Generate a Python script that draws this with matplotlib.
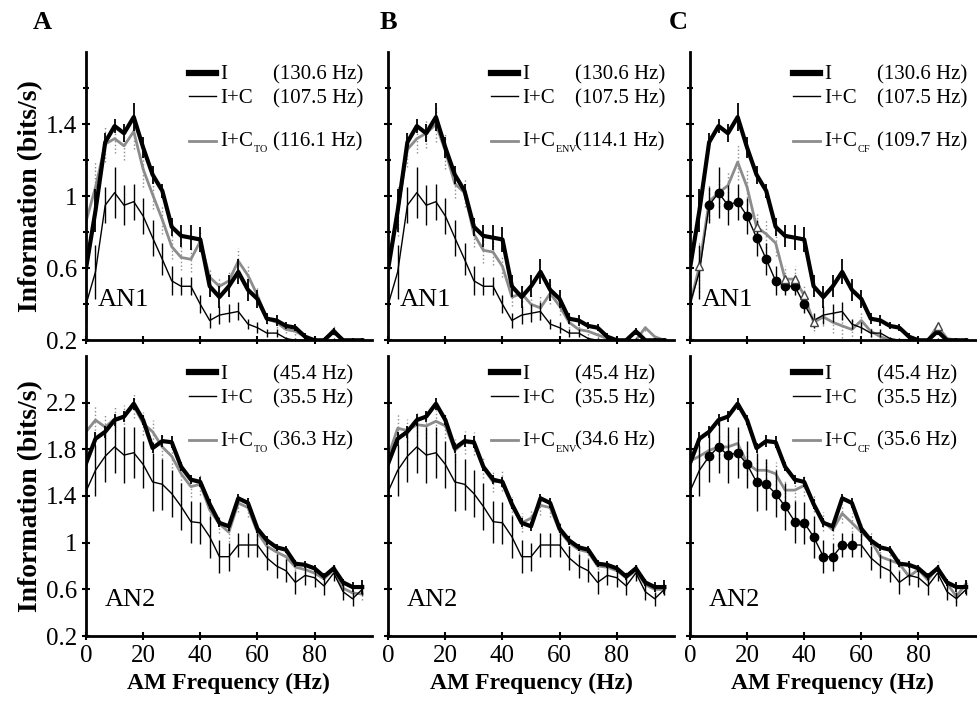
import numpy as np
import matplotlib
matplotlib.use("Agg")
import matplotlib.pyplot as plt
from matplotlib.lines import Line2D

plt.rcParams['font.family'] = 'Liberation Serif'
plt.rcParams['mathtext.fontset'] = 'custom'
plt.rcParams['mathtext.rm'] = 'Liberation Serif'

# AM frequencies (Hz)
freq = [0, 3.3, 6.7, 10, 13.3, 16.7, 20, 23.3, 26.7, 30, 33.3, 36.7, 40, 43.3, 46.7,
        50, 53.3, 56.7, 60, 63.3, 66.7, 70, 73.3, 76.7, 80, 83.3, 86.7, 90, 93.3, 96.7]

# AN1 (top row)
an1_I = [0.60, 0.92, 1.30, 1.39, 1.35, 1.44, 1.27, 1.12, 1.03, 0.83, 0.78, 0.77, 0.76, 0.50, 0.44,
         0.50, 0.58, 0.48, 0.43, 0.32, 0.31, 0.28, 0.27, 0.22, 0.20, 0.20, 0.25, 0.20, 0.20, 0.20]
an1_IC = [0.40, 0.58, 0.95, 1.02, 0.95, 0.97, 0.89, 0.77, 0.65, 0.53, 0.50, 0.50, 0.40, 0.31, 0.34,
          0.35, 0.36, 0.29, 0.27, 0.24, 0.24, 0.21, 0.20, 0.20, 0.20, 0.20, 0.20, 0.20, 0.20, 0.20]
an1_TO = [0.86, 1.05, 1.29, 1.32, 1.28, 1.36, 1.15, 1.01, 0.87, 0.72, 0.66, 0.65, 0.75, 0.55, 0.50,
          0.53, 0.64, 0.56, 0.45, 0.32, 0.30, 0.26, 0.25, 0.22, 0.20, 0.20, 0.26, 0.20, 0.20, 0.20]
an1_ENV = [0.62, 0.92, 1.26, 1.32, 1.35, 1.40, 1.25, 1.07, 1.02, 0.79, 0.70, 0.69, 0.61, 0.44, 0.46,
           0.40, 0.38, 0.46, 0.39, 0.30, 0.26, 0.25, 0.23, 0.21, 0.20, 0.20, 0.20, 0.27, 0.22, 0.20]
an1_CF = [0.40, 0.61, 0.97, 1.02, 1.06, 1.19, 1.05, 0.83, 0.79, 0.74, 0.54, 0.54, 0.45, 0.30, 0.33,
          0.30, 0.28, 0.26, 0.31, 0.25, 0.22, 0.20, 0.20, 0.20, 0.20, 0.20, 0.28, 0.21, 0.20, 0.20]
an1_err_I = [0.10, 0.12, 0.05, 0.04, 0.05, 0.08, 0.06, 0.05, 0.04, 0.05, 0.06, 0.07, 0.07, 0.06, 0.06,
             0.06, 0.07, 0.06, 0.05, 0.03, 0.03, 0.02, 0.02, 0.02, 0.01, 0.01, 0.02, 0.01, 0.01, 0.01]
an1_err_IC = [0.10, 0.15, 0.10, 0.14, 0.11, 0.10, 0.10, 0.10, 0.09, 0.08, 0.05, 0.05, 0.05, 0.04, 0.05,
              0.05, 0.05, 0.03, 0.03, 0.02, 0.02, 0.01, 0.01, 0.01, 0.01, 0.01, 0.01, 0.01, 0.01, 0.01]
an1_err_gray = [0.08, 0.14, 0.10, 0.08, 0.08, 0.10, 0.10, 0.08, 0.08, 0.07, 0.07, 0.07, 0.06, 0.05, 0.05,
                0.06, 0.07, 0.06, 0.05, 0.03, 0.03, 0.02, 0.02, 0.02, 0.01, 0.01, 0.03, 0.02, 0.01, 0.01]

# AN2 (bottom row)
an2_I = [1.68, 1.89, 1.95, 2.05, 2.08, 2.19, 2.05, 1.81, 1.87, 1.86, 1.65, 1.54, 1.52, 1.33, 1.17,
         1.14, 1.38, 1.34, 1.12, 1.02, 0.96, 0.94, 0.82, 0.81, 0.78, 0.71, 0.78, 0.66, 0.62, 0.62]
an2_IC = [1.44, 1.62, 1.74, 1.82, 1.75, 1.77, 1.67, 1.52, 1.50, 1.42, 1.31, 1.18, 1.17, 1.05, 0.88,
          0.88, 0.98, 0.98, 0.98, 0.87, 0.80, 0.76, 0.66, 0.72, 0.70, 0.63, 0.74, 0.58, 0.52, 0.60]
an2_TO = [1.95, 2.05, 1.99, 2.06, 2.08, 2.17, 2.02, 1.95, 1.82, 1.74, 1.59, 1.48, 1.50, 1.28, 1.16,
          1.09, 1.34, 1.30, 1.09, 0.97, 0.92, 0.88, 0.79, 0.77, 0.74, 0.69, 0.77, 0.61, 0.57, 0.56]
an2_ENV = [1.74, 1.98, 1.96, 2.01, 2.00, 2.04, 2.00, 1.79, 1.86, 1.85, 1.64, 1.52, 1.53, 1.31, 1.17,
           1.21, 1.32, 1.30, 1.10, 1.00, 0.94, 0.92, 0.80, 0.79, 0.76, 0.70, 0.76, 0.64, 0.60, 0.60]
an2_CF = [1.70, 1.74, 1.79, 1.82, 1.82, 1.85, 1.68, 1.62, 1.62, 1.59, 1.45, 1.45, 1.49, 1.34, 1.18,
          1.11, 1.25, 1.17, 1.09, 1.02, 0.88, 0.85, 0.82, 0.71, 0.77, 0.68, 0.79, 0.65, 0.54, 0.65]
an2_err_I = [0.05, 0.06, 0.05, 0.05, 0.05, 0.05, 0.04, 0.04, 0.05, 0.05, 0.04, 0.04, 0.04, 0.04, 0.04,
             0.04, 0.04, 0.04, 0.04, 0.04, 0.03, 0.03, 0.03, 0.03, 0.03, 0.03, 0.03, 0.03, 0.04, 0.06]
an2_err_IC = [0.10, 0.22, 0.22, 0.22, 0.24, 0.22, 0.20, 0.25, 0.22, 0.20, 0.20, 0.18, 0.18, 0.18, 0.14,
              0.12, 0.10, 0.10, 0.10, 0.10, 0.10, 0.10, 0.10, 0.08, 0.08, 0.08, 0.07, 0.07, 0.06, 0.05]
an2_err_gray = [0.08, 0.12, 0.10, 0.10, 0.10, 0.10, 0.10, 0.10, 0.10, 0.10, 0.09, 0.09, 0.09, 0.08, 0.08,
                0.08, 0.08, 0.08, 0.07, 0.07, 0.06, 0.06, 0.06, 0.06, 0.05, 0.05, 0.05, 0.05, 0.05, 0.05]

# legend texts
gray_names = ['TO', 'ENV', 'CF']
an1_rates = ['(130.6 Hz)', '(107.5 Hz)', ['(116.1 Hz)', '(114.1 Hz)', '(109.7 Hz)']]
an2_rates = ['(45.4 Hz)', '(35.5 Hz)', ['(36.3 Hz)', '(34.6 Hz)', '(35.6 Hz)']]
panel_letters = ['A', 'B', 'C']

# points where markers show in panel C (others hidden under lines in the original)
cf_tri_idx = [1, 7, 10, 11, 12, 13, 26]
ic_dot_idx = [[2, 3, 4, 5, 6, 7, 8, 9, 10, 11, 12],
              [2, 3, 4, 5, 6, 7, 8, 9, 10, 11, 12, 13, 14, 15, 16, 17]]

rows = [
    dict(I=an1_I, IC=an1_IC, gray=[an1_TO, an1_ENV, an1_CF], eI=an1_err_I, eIC=an1_err_IC,
         eg=an1_err_gray, rates=an1_rates, name='AN1', ylim=(0.2, 1.8),
         major=[0.2, 0.6, 1.0, 1.4], minor=[0.4, 0.8, 1.2, 1.6], ticklabels=['0.2', '0.6', '1', '1.4']),
    dict(I=an2_I, IC=an2_IC, gray=[an2_TO, an2_ENV, an2_CF], eI=an2_err_I, eIC=an2_err_IC,
         eg=an2_err_gray, rates=an2_rates, name='AN2', ylim=(0.2, 2.6),
         major=[0.2, 0.6, 1.0, 1.4, 1.8, 2.2], minor=[], ticklabels=['0.2', '0.6', '1', '1.4', '1.8', '2.2']),
]

GRAY = '#8c8c8c'
fig = plt.figure(figsize=(9.78, 7.06), dpi=100)

lefts = [0.088, 0.397, 0.7055]
bottoms = [0.518, 0.099]
heights = [0.408, 0.397]

for r, row in enumerate(rows):
    for c in range(3):
        ax = fig.add_axes([lefts[c], bottoms[r], 0.292, heights[r]])
        g = row['gray'][c]
        # gray comparison model
        ax.errorbar(freq, g, yerr=row['eg'], color=GRAY, lw=2.0, elinewidth=1.0,
                    capsize=0, zorder=2)
        for bar in ax.containers[-1].lines[2]:
            bar.set_linestyle(':')
        if c == 2 and r == 0:
            ax.plot(freq, g, ls='none', marker='^', ms=6, mfc='white', mec='#444444', mew=1,
                    markevery=cf_tri_idx, zorder=5)
        # I + C
        ax.errorbar(freq, row['IC'], yerr=row['eIC'], color='black', lw=1.0, elinewidth=1.0,
                    capsize=0, zorder=3)
        if c == 2:
            ax.plot(freq, row['IC'], ls='none', marker='o', ms=6, color='black',
                    markevery=ic_dot_idx[r], zorder=4)
        # I
        ax.errorbar(freq, row['I'], yerr=row['eI'], color='black', lw=3.0, elinewidth=1.3,
                    capsize=0, zorder=4)

        ax.set_xlim(0, 100)
        ax.set_ylim(*row['ylim'])
        ax.set_xticks([0, 20, 40, 60, 80])
        ax.set_yticks(row['major'])
        ax.set_yticks(row['minor'], minor=True)
        for s in ['top', 'right']:
            ax.spines[s].set_visible(False)
        for s in ['left', 'bottom']:
            ax.spines[s].set_linewidth(2)
        ax.tick_params(direction='inout', length=6, width=1.5, labelsize=18)
        ax.tick_params(which='minor', direction='inout', length=5, width=1.5)
        if c == 0:
            ax.set_yticklabels(row['ticklabels'])
            ax.set_ylabel('Information (bits/s)', fontsize=20, fontweight='bold', labelpad=2)
        else:
            ax.set_yticklabels([])
        if r == 1:
            ax.set_xticklabels(['0', '20', '40', '60', '80'])
            ax.set_xlabel('AM Frequency (Hz)', fontsize=17, fontweight='bold', labelpad=4)
        else:
            ax.set_xticklabels([])

        ax.text(0.04 if r == 0 else 0.065, 0.14 if r == 0 else 0.13, row['name'],
                transform=ax.transAxes, fontsize=19, va='center')

        # legend: names + rates
        h_I = Line2D([], [], color='black', lw=4.5)
        h_IC = Line2D([], [], color='black', lw=1)
        h_g = Line2D([], [], color=GRAY, lw=2)
        blank = Line2D([], [], color='none')
        names = ['I', 'I+C', '', r'I+C$_{_\mathrm{%s}}$' % gray_names[c]]
        rates = [row['rates'][0], row['rates'][1], '', row['rates'][2][c]]
        top = 0.955 if r == 0 else 0.967
        kw = dict(loc='upper left', frameon=False, fontsize=15, labelspacing=0.22,
                  handleheight=0.5, borderaxespad=0, borderpad=0)
        leg1 = ax.legend([h_I, h_IC, blank, h_g], names, bbox_to_anchor=(0.36, top),
                         handlelength=1.3, handletextpad=0.2, **kw)
        leg1.get_texts()[2].set_fontsize(4)
        ax.add_artist(leg1)
        leg2 = ax.legend([blank] * 4, rates, bbox_to_anchor=(0.655, top),
                         handlelength=0, handletextpad=0, **kw)
        leg2.get_texts()[2].set_fontsize(4)

        if r == 0:
            fig.text(lefts[c] - (0.045 if c == 0 else 0.0) - (0.012 if c == 2 else 0), 0.968,
                     panel_letters[c], fontsize=19, fontweight='bold', ha='center', va='center')

fig.savefig('out.png', dpi=100)
